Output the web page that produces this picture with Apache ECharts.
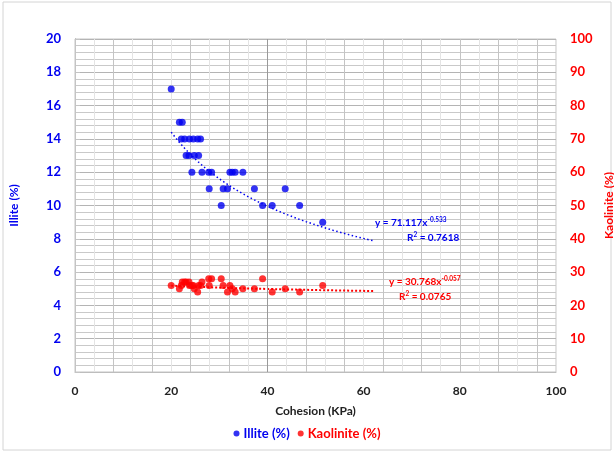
<!DOCTYPE html>
<html>
<head>
<meta charset="utf-8">
<script src="https://cdn.jsdelivr.net/npm/echarts@6/dist/echarts.min.js"></script>
<style>
  html, body { margin: 0; padding: 0; background: #fff; }
  #chart { width: 614px; height: 453px; }
</style>
</head>
<body>
<div id="chart"></div>
<script>
// Cohesion of each sample (KPa) with its clay-mineral contents
const cohesion  = [20, 21.7, 22.1, 22.3, 22.8, 23.1, 23.7, 23.8, 24.3, 24.6, 24.8, 25.5, 25.7, 26.1, 26.4, 27.8,
                   27.9, 28.4, 30.4, 30.8, 31.7, 32.2, 32.7, 33.3, 34.9, 37.3, 39, 41, 43.7, 46.7, 51.5];
const illite    = [17, 15, 14, 15, 14, 13, 13, 14, 12, 14, 13, 14, 13, 14, 12, 12,
                   11, 12, 10, 11, 11, 12, 12, 12, 12, 11, 10, 10, 11, 10, 9];
const kaolinite = [26, 25, 26, 27, 27, 27, 27, 26, 26, 26, 25, 24, 26, 26, 27, 28,
                   26, 28, 28, 26, 24, 26, 25, 24, 25, 25, 28, 24, 25, 24, 26];

// Power-law trend lines y = a * x^b, as stated in their labels
const illiteFit    = { a: 71.117, b: -0.533, r2: '0.7618' };
const kaoliniteFit = { a: 30.768, b: -0.057, r2: '0.0765' };
const trendRange   = [20, 62];

const xTicks = [0, 20, 40, 60, 80, 100];
const illiteTicks = [0, 2, 4, 6, 8, 10, 12, 14, 16, 18, 20];
const kaoliniteTicks = [0, 10, 20, 30, 40, 50, 60, 70, 80, 90, 100];

const BLUE = '#0000f0';
const RED = '#ff0000';
const FONT = 'Lato';

function trend(fit) {
  const pts = [];
  const n = 60;
  for (let i = 0; i <= n; i++) {
    const x = trendRange[0] + (trendRange[1] - trendRange[0]) * i / n;
    pts.push([x, fit.a * Math.pow(x, fit.b)]);
  }
  return pts;
}

const chart = echarts.init(document.getElementById('chart'), null, { renderer: 'canvas' });

const eqText = (fit, color) => ({
  text: '{t|y = ' + fit.a.toFixed(3) + 'x}{s|' + fit.b.toFixed(3) + '}',
  rich: {
    t: { fill: color, fontSize: 10, fontWeight: 'bold', fontFamily: FONT },
    s: { fill: color, fontSize: 6.5, fontWeight: 'bold', fontFamily: FONT, padding: [0, 0, 6, 0] }
  }
});
const r2Text = (fit, color) => ({
  text: '{t|R}{s|2}{t| = ' + fit.r2 + '}',
  rich: {
    t: { fill: color, fontSize: 10, fontWeight: 'bold', fontFamily: FONT },
    s: { fill: color, fontSize: 6.5, fontWeight: 'bold', fontFamily: FONT, padding: [0, 0, 6, 0] }
  }
});

chart.setOption({
  animation: false,
  backgroundColor: '#fff',
  grid: { left: 75, right: 58, top: 39, bottom: 81, show: true, borderColor: '#c4c4c4', borderWidth: 1,
          outerBoundsMode: 'none', containLabel: false },
  xAxis: [
    {
      type: 'value', min: xTicks[0], max: xTicks[xTicks.length - 1], interval: 20,
      name: 'Cohesion (KPa)', nameLocation: 'middle', nameGap: 33,
      nameTextStyle: { color: '#222', fontSize: 12, fontWeight: 'bold', fontFamily: FONT },
      axisLine: { show: true, lineStyle: { color: '#bdbdbd' } },
      axisTick: { show: false },
      axisLabel: { color: '#222', fontSize: 12, fontWeight: 'bold', fontFamily: FONT, margin: 13 },
      splitLine: { show: false }
    },
    {
      // fine vertical grid
      type: 'value', min: 0, max: 100, interval: 4, position: 'bottom',
      axisLine: { show: false }, axisTick: { show: false }, axisLabel: { show: false },
      splitLine: { show: true, lineStyle: { color: ['#c4c4c4', '#e4e4e4'], width: 1 } }
    }
  ],
  yAxis: [
    {
      type: 'value', min: illiteTicks[0], max: illiteTicks[illiteTicks.length - 1], interval: 2,
      name: 'Illite (%)', nameLocation: 'middle', nameRotate: 90, nameGap: 55,
      nameTextStyle: { color: BLUE, fontSize: 12, fontWeight: 'bold', fontFamily: FONT },
      axisLine: { show: true, lineStyle: { color: '#8c8c8c' } },
      axisTick: { show: false },
      axisLabel: { color: BLUE, fontSize: 13, fontWeight: 'bold', fontFamily: FONT, margin: 14 },
      splitLine: { show: true, lineStyle: { color: '#b4b4b4' } },
      minorTick: { show: false, splitNumber: 5 },
      minorSplitLine: { show: true, lineStyle: { color: '#c9c9c9' } }
    },
    {
      type: 'value', min: kaoliniteTicks[0], max: kaoliniteTicks[kaoliniteTicks.length - 1], interval: 10,
      position: 'right',
      name: 'Kaolinite (%)', nameLocation: 'middle', nameRotate: 90, nameGap: 42,
      nameTextStyle: { color: RED, fontSize: 12, fontWeight: 'bold', fontFamily: FONT },
      axisLine: { show: true, lineStyle: { color: '#c4c4c4' } },
      axisTick: { show: true, inside: false, length: 5, lineStyle: { color: '#c4c4c4' } },
      axisLabel: { color: RED, fontSize: 13, fontWeight: 'bold', fontFamily: FONT, margin: 14 },
      splitLine: { show: false }
    }
  ],
  legend: {
    bottom: 8, left: 'center', itemGap: 8, icon: 'circle', itemWidth: 6, itemHeight: 6,
    textStyle: { fontSize: 13, fontWeight: 'bold', fontFamily: FONT, padding: [0, 0, 0, -1] },
    data: [
      { name: 'Illite (%)', textStyle: { color: BLUE } },
      { name: 'Kaolinite (%)', textStyle: { color: RED } }
    ]
  },
  series: [
    {
      name: 'Illite (%)', type: 'scatter', xAxisIndex: 0, yAxisIndex: 0,
      symbolSize: 7, itemStyle: { color: BLUE },
      data: cohesion.map((c, i) => [c, illite[i]]),
      z: 5,
      markLine: {
        silent: true, symbol: 'none', label: { show: false },
        lineStyle: { color: '#9a9a9a', type: 'solid', width: 1 },
        data: [{ xAxis: 40 }]
      }
    },
    {
      name: 'Kaolinite (%)', type: 'scatter', xAxisIndex: 0, yAxisIndex: 1,
      symbolSize: 7, itemStyle: { color: RED },
      data: cohesion.map((c, i) => [c, kaolinite[i]]),
      z: 5
    },
    {
      name: 'Illite trend', type: 'line', xAxisIndex: 0, yAxisIndex: 0,
      showSymbol: false, smooth: false,
      lineStyle: { color: BLUE, width: 1.5, type: [1.5, 2.5] },
      data: trend(illiteFit), z: 4
    },
    {
      name: 'Kaolinite trend', type: 'line', xAxisIndex: 0, yAxisIndex: 1,
      showSymbol: false, smooth: false,
      lineStyle: { color: RED, width: 2, type: [2, 2] },
      data: trend(kaoliniteFit), z: 4
    }
  ],
  graphic: [
    { type: 'rect', silent: true, z: -10, shape: { x: 3, y: 2, width: 608, height: 448 },
      style: { fill: 'none', stroke: '#d4d4d4', lineWidth: 1 } },
    { type: 'text', x: 375, y: 216, style: eqText(illiteFit, BLUE), z: 10 },
    { type: 'text', x: 407, y: 231, style: r2Text(illiteFit, BLUE), z: 10 },
    { type: 'text', x: 389, y: 275, style: eqText(kaoliniteFit, RED), z: 10 },
    { type: 'text', x: 399, y: 290, style: r2Text(kaoliniteFit, RED), z: 10 }
  ]
});
</script>
</body>
</html>
